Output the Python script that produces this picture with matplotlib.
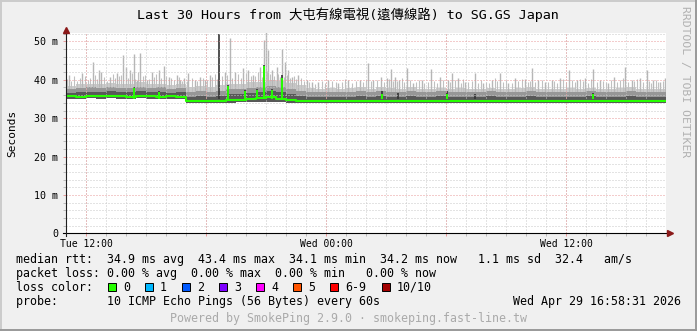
import numpy as np
import matplotlib.pyplot as plt
from matplotlib.patches import Rectangle
from matplotlib.lines import Line2D

W, H = 697, 331
MONO = 'DejaVu Sans Mono'

# =====================================================
# Data (hours since Tue 10:58:31, ms)
# =====================================================
hours = np.arange(0, 30.5, 0.5)

median = [35.7, 35.6, 35.8, 35.7, 35.9, 35.7, 35.6, 35.8, 35.7, 35.6, 35.7, 35.6,
          34.4, 34.6, 34.5, 34.6, 34.8, 34.7, 35.0, 35.2, 35.4, 35.0, 34.8, 34.6,
          34.5, 34.4, 34.5, 34.4, 34.5, 34.4, 34.6, 34.5, 34.5, 34.4, 34.5, 34.4,
          34.5, 34.4, 34.6, 34.5, 34.5, 34.4, 34.5, 34.4, 34.5, 34.4, 34.5, 34.5,
          34.4, 34.5, 34.4, 34.5, 34.6, 34.5, 34.4, 34.5, 34.4, 34.5, 34.4, 34.5, 34.4]

smoke_min = [35.1, 35.0, 35.2, 35.1, 35.2, 35.1, 35.0, 35.2, 35.1, 35.0, 35.1, 35.0,
             33.9, 34.0, 33.9, 34.0, 34.0, 34.1, 34.2, 34.2, 34.3, 34.1, 34.0, 33.9,
             34.0, 33.9, 34.0, 33.9, 34.0, 33.9, 34.0, 34.0, 33.9, 34.0, 33.9, 34.0,
             34.0, 33.9, 34.0, 34.0, 33.9, 34.0, 33.9, 34.0, 34.0, 33.9, 34.0, 34.0,
             33.9, 34.0, 33.9, 34.0, 34.0, 33.9, 34.0, 33.9, 34.0, 34.0, 33.9, 34.0, 33.9]

dark_top = [36.6, 36.7, 36.9, 36.7, 37.0, 36.8, 36.7, 37.1, 36.8, 36.9, 36.6, 36.7,
            35.6, 35.8, 35.6, 35.9, 36.2, 36.3, 36.6, 36.9, 37.2, 36.7, 36.3, 35.9,
            35.6, 35.5, 35.6, 35.5, 35.6, 35.7, 35.5, 35.8, 35.6, 35.5, 35.7, 35.5,
            35.6, 35.7, 35.5, 35.6, 35.6, 35.5, 35.7, 35.6, 35.5, 35.6, 35.7, 35.5,
            35.6, 35.5, 35.6, 35.5, 35.7, 35.6, 35.6, 35.5, 35.7, 35.5, 35.6, 35.5, 35.6]

mid_top = [37.6, 37.8, 38.0, 37.8, 38.1, 37.9, 37.8, 38.2, 37.9, 38.0, 37.7, 37.8,
           36.8, 37.0, 36.8, 37.2, 37.5, 37.6, 37.9, 38.2, 38.5, 38.0, 37.6, 37.2,
           36.9, 36.7, 36.9, 36.8, 36.9, 37.0, 36.8, 37.1, 36.9, 36.8, 37.0, 36.7,
           36.8, 37.0, 36.7, 36.9, 36.8, 36.7, 37.0, 36.8, 36.7, 36.9, 37.0, 36.8,
           36.8, 36.7, 36.9, 36.8, 37.0, 36.8, 36.9, 36.8, 37.0, 36.7, 36.8, 36.7, 36.8]

light_top = [38.4, 38.8, 39.0, 38.9, 39.2, 39.0, 38.8, 39.4, 38.9, 39.0, 38.7, 38.9,
             38.2, 38.5, 38.1, 38.6, 38.8, 39.0, 39.3, 39.5, 39.9, 39.6, 39.2, 38.7,
             37.9, 37.7, 37.9, 37.6, 37.8, 38.0, 37.7, 38.1, 37.9, 37.7, 38.0, 37.6,
             37.7, 37.9, 37.6, 37.8, 37.7, 37.6, 37.9, 37.7, 37.5, 37.8, 38.0, 37.6,
             37.7, 37.5, 37.8, 37.6, 37.9, 37.7, 37.6, 37.8, 38.0, 37.6, 37.7, 37.5, 37.6]

# tall smoke spikes
spike_h = [0.13, 0.8, 1.33, 1.63, 1.77, 2.22, 2.55, 2.85, 3.0, 3.22, 3.38, 3.55, 3.72,
           4.05, 4.3, 4.63, 4.88, 5.13, 5.55, 5.72, 5.88,
           6.12, 6.45, 6.7, 6.95, 7.2, 7.95, 8.2, 8.45, 8.87, 9.12, 9.37, 9.7, 9.92,
           10.0, 10.12, 10.32, 10.53, 10.7, 10.82, 10.95, 11.12, 11.28, 11.62, 12.03,
           12.28, 12.62, 13.12, 13.62, 14.12, 14.7, 15.12, 15.37, 15.75, 16.03, 16.25,
           16.45, 16.65, 17.03, 17.37, 17.78,
           18.23, 18.7, 19.08, 19.28, 19.62, 19.95, 20.45, 20.87, 21.28, 21.7, 22.12,
           22.45, 22.95, 23.32, 23.62, 23.95,
           24.28, 24.7, 25.15, 25.53, 25.95, 26.37, 26.7, 27.12, 27.42, 27.95, 28.28,
           28.7, 29.03, 29.37, 29.7, 29.95]
spike_top = [41.2, 41.7, 44.7, 42.5, 42.1, 40.8, 41.7, 46.4, 43.4, 42.5, 46.7, 39.9, 47.0,
             39.9, 42.1, 42.5, 43.6, 40.8, 41.2, 39.9, 40.4,
             41.7, 39.9, 40.8, 39.9, 41.2, 42.1, 51.0, 42.1, 43.0, 42.5, 41.2, 43.4, 50.3,
             52.5, 47.7, 42.5, 43.4, 40.8, 48.1, 44.7, 42.5, 40.8, 41.2, 39.9,
             39.5, 39.5, 39.9, 39.1, 39.9, 39.9, 44.4, 39.9, 40.8, 40.4, 42.7,
             40.8, 39.9, 43.1, 39.1, 39.9,
             42.7, 40.8, 39.9, 41.8, 40.4, 39.5, 41.7, 39.1, 39.9, 41.7, 39.1,
             40.4, 40.1, 43.2, 39.9, 39.5,
             39.9, 40.4, 42.5, 39.9, 40.4, 42.7, 39.9, 39.1, 40.8, 43.4, 39.9,
             40.4, 42.5, 39.9, 39.5, 40.4]

# shorter grass blades of the light smoke
grass_h = [0.05, 0.25, 0.4, 0.55, 0.7, 0.95, 1.1, 1.2, 1.45, 1.55, 1.9, 2.05, 2.35, 2.45, 2.65,
           2.75, 3.1, 3.3, 3.45, 3.62, 3.85, 3.95, 4.15, 4.4, 4.5, 4.75, 5.0, 5.25, 5.4, 5.65, 5.8,
           6.05, 6.3, 6.55, 6.85, 7.05, 7.3, 7.45, 7.55, 7.8, 8.05, 8.3, 8.6, 8.75, 9.0, 9.25,
           9.45, 9.6, 9.8, 10.05, 10.2, 10.4, 10.6, 10.9, 11.05, 11.2, 11.4, 11.5, 11.75, 11.9,
           12.15, 12.45, 12.8, 12.95, 13.3, 13.5, 13.8, 13.95, 14.3, 14.5, 14.85, 15.0, 15.25,
           15.55, 15.9, 16.15, 16.35, 16.55, 16.8, 16.9, 17.2, 17.5, 17.65, 17.9,
           18.1, 18.4, 18.55, 18.85, 19.2, 19.45, 19.75, 19.85, 20.1, 20.3, 20.6, 20.75, 21.0,
           21.15, 21.45, 21.55, 21.85, 22.0, 22.3, 22.6, 22.8, 23.1, 23.2, 23.45, 23.8,
           24.1, 24.4, 24.55, 24.85, 25.0, 25.3, 25.45, 25.7, 25.85, 26.1, 26.25, 26.55, 26.85,
           27.0, 27.25, 27.55, 27.7, 27.85, 28.1, 28.4, 28.55, 28.85, 29.15, 29.25, 29.5, 29.6,
           29.85]
grass_top = [40.3, 39.8, 40.9, 39.6, 40.5, 41.0, 39.9, 40.6, 41.3, 40.2, 40.8, 39.7, 41.5, 40.4, 40.9,
             41.2, 40.6, 41.8, 40.3, 42.0, 40.9, 41.3, 40.2, 40.8, 41.6, 40.4, 41.1, 40.5, 39.9, 40.7, 39.8,
             39.6, 40.4, 39.8, 40.6, 39.9, 40.8, 41.6, 40.2, 40.9, 41.2, 40.4, 41.4, 40.6, 41.8, 40.9,
             41.1, 42.0, 40.7, 42.3, 41.5, 40.9, 41.6, 40.8, 41.2, 40.4, 41.0, 40.3, 40.6, 39.8,
             39.4, 39.0, 39.6, 39.2, 39.8, 39.3, 39.5, 40.1, 39.2, 39.7, 39.4, 40.0, 39.6,
             39.9, 39.3, 40.2, 39.6, 39.8, 40.4, 39.5, 39.9, 39.4, 40.0, 39.2,
             39.3, 39.8, 39.1, 40.0, 39.5, 39.9, 39.2, 40.3, 39.4, 39.7, 39.2, 40.0, 39.5,
             39.1, 40.4, 39.6, 39.3, 39.9, 39.2, 39.6, 40.1, 39.4, 39.8, 39.3, 40.0,
             39.4, 39.8, 39.2, 40.1, 39.5, 39.9, 39.3, 40.2, 39.6, 39.2, 40.3, 39.5, 39.8,
             39.3, 40.0, 39.4, 39.9, 40.4, 39.3, 39.7, 40.1, 39.4, 39.8, 39.2, 40.0, 39.5,
             39.6]

dark_h = [3.38, 4.67, 7.67, 8.12, 8.95, 9.53, 9.92, 10.32, 10.82, 15.82, 16.62, 19.03, 20.45, 26.37]
dark_top_sp = [38.2, 37.1, 52.0, 38.6, 37.3, 37.7, 43.8, 37.7, 41.2, 37.0, 36.6, 37.0, 36.3, 36.6]

bump_h = [3.38, 4.67, 8.12, 8.95, 9.53, 9.92, 10.32, 10.82, 15.82, 19.03, 26.37]
bump_top = [37.9, 36.8, 38.3, 37.0, 37.4, 43.5, 37.3, 40.5, 36.3, 36.4, 36.3]

title = "Last 30 Hours from 大屯有線電視(遠傳線路) to SG.GS Japan"
xtick_labels = ["Tue 12:00", "", "Wed 00:00", "", "Wed 12:00"]
ytick_vals = [0, 10, 20, 30, 40, 50]
ytick_labels = ["0", "10 m", "20 m", "30 m", "40 m", "50 m"]

legend_lines = [
    "median rtt:  34.9 ms avg  43.4 ms max  34.1 ms min  34.2 ms now   1.1 ms sd  32.4   am/s",
    "packet loss: 0.00 % avg  0.00 % max  0.00 % min   0.00 % now",
    "loss color:",
    "probe:       10 ICMP Echo Pings (56 Bytes) every 60s",
]
loss_labels = ["0", "1", "2", "3", "4", "5", "6-9", "10/10"]
loss_colors = ["#26ff00", "#00b8ff", "#0059ff", "#7e00ff", "#ff00ff", "#ff5500", "#ff0000", "#a10000"]
loss_x = [108, 145, 182, 219, 256, 293, 330, 382]
stamp = "Wed Apr 29 16:58:31 2026"
footer = "Powered by SmokePing 2.9.0 · smokeping.fast-line.tw"


def fx(x):
    return x / W


def fy(y):
    return 1 - y / H


# =====================================================
# Figure
# =====================================================
fig = plt.figure(figsize=(W / 100, H / 100), dpi=100, facecolor='#f0f0f0')
ax = fig.add_axes([fx(66), fy(233.3), 600 / W, 200.3 / H])
ax.set_facecolor('white')
ax.set_xlim(0, 30)
ax.set_ylim(0, 52.2)
for s in ax.spines.values():
    s.set_visible(False)

# grid
minor_x = np.arange(0.0247, 30, 1.0)
major_x = np.arange(1.0247, 30, 6.0)
minor_y = [v for v in range(2, 53, 2) if v % 10]
dots = (0, (1, 2))
ax.vlines(minor_x, 0, 52.2, colors='#c8c8c8', linestyles=dots, lw=0.72, zorder=5)
ax.hlines(minor_y, 0, 30, colors='#c8c8c8', linestyles=dots, lw=0.72, zorder=5)
ax.vlines(major_x, 0, 52.2, colors='#e89a9a', linestyles=dots, lw=0.72, zorder=5)
ax.hlines(ytick_vals[1:], 0, 30, colors='#e89a9a', linestyles=dots, lw=0.72, zorder=5)

# smoke
ax.fill_between(hours, smoke_min, light_top, step='post', color='#cccccc', lw=0, zorder=2)
ax.vlines(grass_h, 36.5, grass_top, colors='#c0c0c0', lw=0.8, zorder=2)
ax.vlines(spike_h, 36.5, spike_top, colors='#b6b6b6', lw=1.0, zorder=2)
ax.fill_between(hours, smoke_min, mid_top, step='post', color='#979797', lw=0, zorder=3)
ax.fill_between(hours, smoke_min, dark_top, step='post', color='#585858', lw=0, zorder=3)
ax.vlines(dark_h, 35, dark_top_sp, colors='#333333', lw=1.2, zorder=4)

# median
ax.step(hours, median, where='post', color='#26ff00', lw=1.5, zorder=6)
ax.vlines(bump_h, 35, bump_top, colors='#26ff00', lw=1.4, zorder=6)

# axes lines and arrows
ax.plot([-0.15, 30.2], [0, 0], color='black', lw=0.8, clip_on=False, zorder=7)
ax.plot([0, 0], [-0.6, 52.9], color='#1f1f1f', lw=0.8, clip_on=False, zorder=7)
ax.plot([30.2], [0], marker='>', color='#8b1a1a', ms=4, clip_on=False, zorder=8)
ax.plot([0], [52.9], marker='^', color='#8b1a1a', ms=4, clip_on=False, zorder=8)

# ticks
ax.set_xticks(major_x)
ax.set_xticklabels(xtick_labels, family=MONO, fontsize=7)
ax.set_xticks(minor_x, minor=True)
ax.set_yticks(ytick_vals)
ax.set_yticklabels(ytick_labels, family=MONO, fontsize=7.2)
ax.set_yticks(minor_y, minor=True)
ax.tick_params(axis='x', which='major', length=2, width=0.7, color='#e89a9a', pad=2)
ax.tick_params(axis='x', which='minor', length=2, width=0.7, color='#bbbbbb')
ax.tick_params(axis='y', which='major', length=2, width=0.7, color='#e89a9a', pad=3.5)
ax.tick_params(axis='y', which='minor', length=2, width=0.7, color='#bbbbbb')
ax.set_ylabel("Seconds", family=MONO, fontsize=8, labelpad=12)

# title
fig.text(fx(348), fy(15), title, ha='center', va='center', fontsize=9.6,
         family=[MONO, 'Noto Sans CJK TC'])

# watermark
fig.text(fx(685), fy(81.5), "RRDTOOL / TOBI OETIKER", rotation=270, ha='center', va='center',
         fontsize=8.2, family=MONO, color='#b0b0b0')

# legend
for line, yy in zip(legend_lines, [259.3, 273.3, 287.3, 301]):
    fig.text(fx(16), fy(yy), line, ha='left', va='center', fontsize=8.4, family=MONO)
for lab, col, xx in zip(loss_labels, loss_colors, loss_x):
    fig.patches.append(Rectangle((fx(xx), fy(291)), 8 / W, 8 / H, transform=fig.transFigure,
                                 facecolor=col, edgecolor='black', lw=0.7))
    fig.text(fx(xx + 15), fy(287.3), lab, ha='left', va='center', fontsize=8.4, family=MONO)
fig.text(fx(681), fy(301), stamp, ha='right', va='center', fontsize=8.4, family=MONO)
fig.text(fx(348.5), fy(318.3), footer, ha='center', va='center', fontsize=8.4, family=MONO,
         color='#aaaaaa')

# frame
fig.add_artist(Line2D([0, 1], [fy(1), fy(1)], color='#cbcbcb', lw=1.4))
fig.add_artist(Line2D([fx(1), fx(1)], [0, 1], color='#cbcbcb', lw=1.4))
fig.add_artist(Line2D([0, 1], [fy(330), fy(330)], color='#999999', lw=1.4))
fig.add_artist(Line2D([fx(696), fx(696)], [0, 1], color='#999999', lw=1.4))

fig.savefig('out.png', dpi=100, facecolor=fig.get_facecolor())
